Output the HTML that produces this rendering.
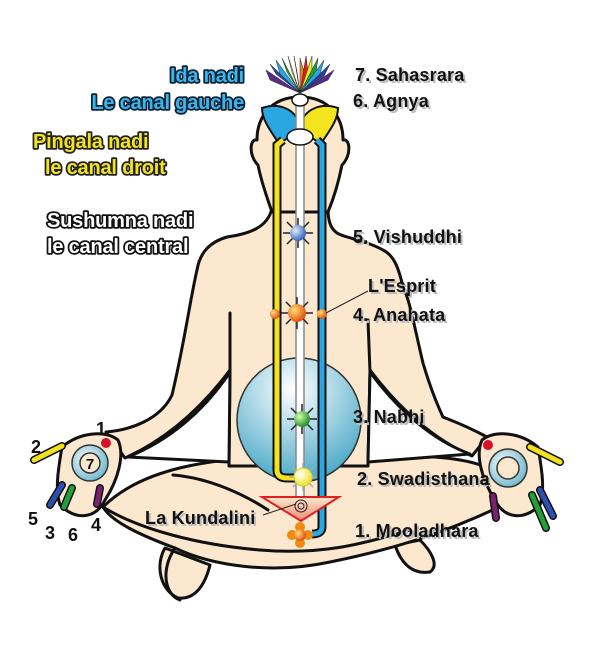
<!DOCTYPE html>
<html><head><meta charset="utf-8"><style>
html,body{margin:0;padding:0;background:#fff;}
svg{display:block;}
.lab{font-family:"Liberation Sans",sans-serif;font-weight:bold;font-size:18px;fill:#111;letter-spacing:0.2px;}
.shd{font-family:"Liberation Sans",sans-serif;font-weight:bold;font-size:18px;fill:#bbb;letter-spacing:0.2px;}
.n{font-family:"Liberation Sans",sans-serif;font-weight:bold;font-size:20px;letter-spacing:-0.2px;paint-order:stroke;stroke-linejoin:round;}
</style></head><body>
<svg width="600" height="662" viewBox="0 0 600 662" xmlns="http://www.w3.org/2000/svg">
<defs>
<radialGradient id="belly" cx="0.45" cy="0.25" r="0.8">
<stop offset="0" stop-color="#ffffff"/><stop offset="1" stop-color="#3fa3c4"/></radialGradient>
<radialGradient id="gB" cx="0.35" cy="0.35" r="0.7"><stop offset="0" stop-color="#dfefff"/><stop offset="1" stop-color="#2f5fb8"/></radialGradient>
<radialGradient id="gO" cx="0.35" cy="0.35" r="0.7"><stop offset="0" stop-color="#ffe070"/><stop offset="1" stop-color="#e24a10"/></radialGradient>
<radialGradient id="gG" cx="0.35" cy="0.35" r="0.7"><stop offset="0" stop-color="#d8ffb0"/><stop offset="1" stop-color="#1c8a1c"/></radialGradient>
<radialGradient id="gY" cx="0.35" cy="0.35" r="0.7"><stop offset="0" stop-color="#ffffff"/><stop offset="1" stop-color="#f2e020"/></radialGradient>
<radialGradient id="ring" cx="0.4" cy="0.4" r="0.7"><stop offset="0" stop-color="#ffffff"/><stop offset="1" stop-color="#5fb0c8"/></radialGradient>
<linearGradient id="tri" x1="0" y1="0" x2="0" y2="1"><stop offset="0" stop-color="#fbe8cf"/><stop offset="1" stop-color="#f08a70"/></linearGradient>
</defs>
<g stroke="#111" stroke-width="3" stroke-linejoin="round" fill="#fbe8cf">
<!-- feet -->
<path d="M165,548 C155,565 160,590 178,598 C195,600 205,585 210,565 Z"/>
<path d="M395,545 C400,560 410,575 430,572 C440,565 430,550 420,540 Z"/>
<!-- legs -->
<path d="M103,507 C140,470 210,455 300,458 C390,455 460,452 492,470 L497,508 C450,530 400,548 330,562 C270,575 210,565 175,548 C140,535 112,522 103,507 Z"/>
<!-- torso + arms -->
<path d="M272,208 C268,228 248,234 227,237 C210,242 200,252 197,270 C190,300 185,340 172,395 C160,420 130,430 106,432 L125,458 C165,440 200,410 230,370 L229,466 L368,466 L370,370 C400,410 435,440 472,456 L487,437 C465,425 450,420 443,417 C435,400 428,380 423,363 C415,330 410,300 403,287 C398,265 393,255 383,250 C365,240 345,238 337,233 C330,228 328,220 328,208 Z"/>
<!-- head -->
<path d="M300,97 C270,97 257,118 257,140 C250,138 248,155 258,165 C262,185 268,200 272,212 L328,212 C333,200 338,185 342,165 C352,155 350,138 343,140 C343,118 330,97 300,97 Z"/>
<!-- hands -->
<path d="M62,447 C80,432 105,430 118,440 C125,455 118,480 105,500 C95,520 75,520 60,505 C55,490 58,470 62,447 Z"/>
<path d="M538,447 C520,432 495,430 482,440 C475,455 482,480 495,500 C505,520 525,520 540,505 C545,490 542,470 538,447 Z"/>
</g>
<!-- white gaps -->
<path d="M230,372 C205,410 170,440 128,457 L229,462 Z" fill="#fff" stroke="#111" stroke-width="3" stroke-linejoin="round"/>
<path d="M370,372 C398,410 432,440 470,454 L368,462 Z" fill="#fff" stroke="#111" stroke-width="3" stroke-linejoin="round"/>
<g stroke="#111" stroke-width="3" fill="none" stroke-linecap="round">
<path d="M230,313 L230,372"/>
<path d="M368,320 L370,372"/>
<path d="M173,475 C210,478 245,495 268,510"/>
<path d="M103,507 C140,530 200,545 260,550 C320,555 360,545 410,530"/>
<path d="M175,548 C160,570 165,595 180,600"/>
</g>
<!-- fingers -->
<g stroke="#111" stroke-width="2.5" stroke-linecap="round">
<path d="M34,460 L62,446" stroke-width="8"/><path d="M34,460 L62,446" stroke="#f2e21c" stroke-width="5"/>
<path d="M50,505 L62,485" stroke-width="8"/><path d="M50,505 L62,485" stroke="#2e4fb0" stroke-width="5"/>
<path d="M64,507 L72,488" stroke-width="8"/><path d="M64,507 L72,488" stroke="#22a03a" stroke-width="5"/>
<path d="M97,504 L100,488" stroke-width="8"/><path d="M97,504 L100,488" stroke="#7a2270" stroke-width="5"/>
<path d="M560,462 L530,447" stroke-width="8"/><path d="M560,462 L530,447" stroke="#f2e21c" stroke-width="5"/>
<path d="M553,516 L540,490" stroke-width="8"/><path d="M553,516 L540,490" stroke="#2e4fb0" stroke-width="5"/>
<path d="M546,528 L532,495" stroke-width="8"/><path d="M546,528 L532,495" stroke="#22a03a" stroke-width="5"/>
<path d="M496,518 L493,496" stroke-width="8"/><path d="M496,518 L493,496" stroke="#7a2270" stroke-width="5"/>
</g>
<circle cx="90" cy="463" r="18" fill="url(#ring)" stroke="#333" stroke-width="1.5"/>
<circle cx="90" cy="463" r="10" fill="#fbe8cf" stroke="#333" stroke-width="1.5"/>
<text x="90" y="469" text-anchor="middle" font-family="Liberation Sans" font-weight="bold" font-size="15" fill="#111">7</text>
<circle cx="508" cy="468" r="19" fill="url(#ring)" stroke="#333" stroke-width="1.5"/>
<circle cx="508" cy="468" r="11" fill="#fbe8cf" stroke="#333" stroke-width="1.5"/>
<circle cx="106" cy="443" r="5" fill="#d5102a"/>
<circle cx="488" cy="445" r="5" fill="#d5102a"/>
<!-- belly -->
<circle cx="299" cy="420" r="62" fill="url(#belly)" stroke="#333" stroke-width="1.5"/>
<!-- head lobes -->
<path d="M262,108 C280,102 292,110 297,118 L297,135 C288,137 283,140 280,145 C270,130 262,120 262,108 Z" fill="#2aa6e0" stroke="#111" stroke-width="2"/>
<path d="M338,108 C320,102 308,110 303,118 L303,135 C312,137 317,140 320,145 C330,130 338,120 338,108 Z" fill="#f4e41e" stroke="#111" stroke-width="2"/>
<!-- channels -->
<rect x="296" y="98" width="8" height="420" fill="#fff" stroke="#888" stroke-width="1.5"/>
<path d="M283,140 L277,145 L277,470 Q277,478 287,478 L298,478" fill="none" stroke="#111" stroke-width="9"/>
<path d="M283,140 L277,145 L277,470 Q277,478 287,478 L298,478" fill="none" stroke="#f4e41e" stroke-width="5"/>
<path d="M317,140 L322,145 L322,527 Q322,534 312,534" fill="none" stroke="#111" stroke-width="9"/>
<path d="M317,140 L322,145 L322,527 Q322,534 312,534" fill="none" stroke="#2aa6e0" stroke-width="5"/>
<ellipse cx="300" cy="100" rx="8" ry="6" fill="#fff" stroke="#111" stroke-width="1.5"/>
<ellipse cx="300" cy="137" rx="13" ry="8" fill="#fff" stroke="#111" stroke-width="1.5"/>
<!-- flower -->
<g stroke="#222" stroke-width="0.5">
<path d="M300,93 L266,70 L270,80 Z" fill="#5a2a8a"/>
<path d="M300,93 L270,64 L276,74 Z" fill="#2a3fa0"/>
<path d="M300,93 L276,60 L280,74 Z" fill="#2aa6e0"/>
<path d="M300,93 L282,58 L287,72 Z" fill="#1aa040"/>
<path d="M300,93 L288,56 L292,72 Z" fill="#f4e41e"/>
<path d="M300,93 L294,56 L297,72 Z" fill="#e02020"/>
<path d="M300,93 L300,58 L304,72 Z" fill="#f08020"/>
<path d="M300,93 L306,56 L308,72 Z" fill="#e02020"/>
<path d="M300,93 L312,56 L312,72 Z" fill="#f4e41e"/>
<path d="M300,93 L318,58 L316,72 Z" fill="#1aa040"/>
<path d="M300,93 L324,60 L320,74 Z" fill="#2aa6e0"/>
<path d="M300,93 L330,64 L324,76 Z" fill="#2a3fa0"/>
<path d="M300,93 L334,70 L328,80 Z" fill="#5a2a8a"/>
</g>
<!-- chakras -->
<g stroke="#223" stroke-width="1.5">
<path d="M298,218 L298,248 M283,233 L313,233 M287,222 L309,244 M309,222 L287,244"/>
<path d="M297,297 L297,329 M281,313 L313,313 M286,302 L308,324 M308,302 L286,324"/>
<path d="M302,404 L302,434 M287,419 L317,419 M291,408 L313,430 M313,408 L291,430"/>
</g>
<circle cx="298" cy="233" r="8" fill="url(#gB)"/>
<circle cx="297" cy="313" r="9" fill="url(#gO)"/>
<circle cx="275" cy="314" r="5" fill="url(#gO)"/>
<circle cx="322" cy="314" r="5" fill="url(#gO)"/>
<circle cx="302" cy="419" r="8" fill="url(#gG)"/>
<path d="M303,463 L303,491 M289,477 L317,477 M293,467 L313,487 M313,467 L293,487" stroke="#aa9" stroke-width="1.5"/>
<circle cx="303" cy="477" r="9" fill="url(#gY)" stroke="#cc3" stroke-width="1"/>
<path d="M262,497 L339,497 L301,521 Z" fill="url(#tri)" stroke="#e02020" stroke-width="2"/>
<circle cx="301" cy="506" r="6" fill="none" stroke="#222" stroke-width="1"/>
<circle cx="301" cy="506" r="3" fill="none" stroke="#222" stroke-width="1"/>
<g fill="#f08a10"><circle cx="300" cy="527" r="5"/><circle cx="300" cy="543" r="5"/><circle cx="292" cy="535" r="5"/><circle cx="308" cy="535" r="5"/></g>
<circle cx="300" cy="535" r="6" fill="url(#gO)"/>
<!-- pointers -->
<path d="M368,291 L326,313" stroke="#222" stroke-width="1"/>
<path d="M263,515 L296,504" stroke="#222" stroke-width="1"/>
<!-- right labels shadow -->
<g class="shd" transform="translate(2,2)">
<text x="355" y="81">7. Sahasrara</text>
<text x="353" y="107">6. Agnya</text>
<text x="353" y="243">5. Vishuddhi</text>
<text x="368" y="292">L'Esprit</text>
<text x="353" y="321">4. Anahata</text>
<text x="353" y="423">3. Nabhi</text>
<text x="357" y="485">2. Swadisthana</text>
<text x="355" y="537">1. Mooladhara</text>
<text x="145" y="524">La Kundalini</text>
</g>
<g class="lab">
<text x="355" y="81">7. Sahasrara</text>
<text x="353" y="107">6. Agnya</text>
<text x="353" y="243">5. Vishuddhi</text>
<text x="368" y="292">L'Esprit</text>
<text x="353" y="321">4. Anahata</text>
<text x="353" y="423">3. Nabhi</text>
<text x="357" y="485">2. Swadisthana</text>
<text x="355" y="537">1. Mooladhara</text>
<text x="145" y="524">La Kundalini</text>
</g>
<g class="lab" font-size="17">
<text x="96" y="435">1</text><text x="31" y="453">2</text>
<text x="28" y="525">5</text><text x="45" y="539">3</text><text x="68" y="541">6</text><text x="91" y="531">4</text>
</g>
<!-- left labels -->
<g class="n" text-anchor="end">
<text x="244" y="82" fill="#3ab6ee" stroke="#123" stroke-width="3.5">Ida nadi</text>
<text x="244" y="109" fill="#3ab6ee" stroke="#123" stroke-width="3.5">Le canal gauche</text>
</g>
<g class="n">
<text x="33" y="148" fill="#f4e41e" stroke="#222" stroke-width="3.5">Pingala nadi</text>
<text x="45" y="174" fill="#f4e41e" stroke="#222" stroke-width="3.5">le canal droit</text>
<text x="47" y="227" fill="#fff" stroke="#111" stroke-width="3.5">Sushumna nadi</text>
<text x="47" y="253" fill="#fff" stroke="#111" stroke-width="3.5">le canal central</text>
</g>
</svg>
</body></html>
